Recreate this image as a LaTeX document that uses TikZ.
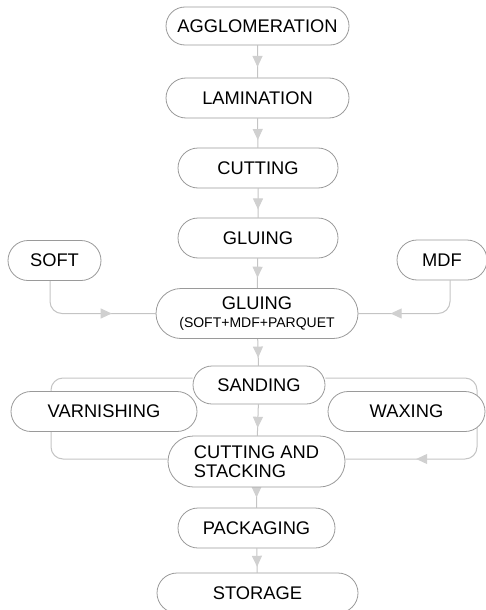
\documentclass[tikz,border=0pt]{standalone}
\usepackage{fontspec}
\setmainfont{Liberation Sans}
\usetikzlibrary{shapes.misc,arrows.meta,decorations.markings}
\definecolor{boxline}{HTML}{9A9A9A}
\definecolor{linkline}{HTML}{C4C4C4}
\definecolor{tipfill}{HTML}{D0D0D0}
\pgfdeclarelayer{background}
\pgfsetlayers{background,main}
\begin{document}
\begin{tikzpicture}[x=1pt,y=-1pt,
  stage/.style={draw=boxline, line width=0.8pt, fill=white, rounded rectangle,
    inner sep=0pt, font=\fontsize{18.3}{19}\selectfont, text=black},
  plainlink/.style={draw=linkline, line width=1pt},
  link/.style={plainlink, postaction={decorate},
    decoration={markings, mark=at position #1 with
      {\arrow{Triangle[length=11pt,width=10pt,color=tipfill,fill=tipfill]}}}},
  link/.default=0.7]
\useasboundingbox (0,0) rectangle (486,610);

\node[stage, minimum width=183pt, minimum height=38pt] (agg) at (257.5,26) {AGGLOMERATION};
\node[stage, minimum width=183pt, minimum height=40pt] (lam) at (257.5,98) {LAMINATION};
\node[stage, minimum width=160pt, minimum height=40pt] (cut) at (258,168) {CUTTING};
\node[stage, minimum width=160pt, minimum height=40pt] (glu) at (258,238) {GLUING};
\node[stage, minimum width=93pt, minimum height=40pt] (soft) at (54.5,260.5) {SOFT};
\node[stage, minimum width=90pt, minimum height=40pt] (mdf) at (442,260) {MDF};
\node[stage, minimum width=202pt, minimum height=50pt, align=center] (glu2) at (257,313.5)
  {GLUING\\[-1pt]{\fontsize{14}{15}\selectfont (SOFT+MDF+PARQUET}};
\node[stage, minimum width=132pt, minimum height=38pt] (sand) at (259,385) {SANDING};
\node[stage, minimum width=186pt, minimum height=40pt] (varn) at (104,411.5) {VARNISHING\hspace{14pt}};
\node[stage, minimum width=157pt, minimum height=40pt] (wax) at (406.5,411.5) {WAXING};
\node[stage, minimum width=177pt, minimum height=51pt, align=left] (cs) at (256.5,461.5)
  {CUTTING AND\\STACKING};
\node[stage, minimum width=157pt, minimum height=40pt] (pack) at (256.5,528) {PACKAGING};
\node[stage, minimum width=201pt, minimum height=40pt] (stor) at (257.5,593) {STORAGE};

\coordinate (TL) at (51,378);
\coordinate (TR) at (477,378);
\coordinate (BL) at (51,459);
\coordinate (BR) at (477,459);

\begin{pgfonlayer}{background}
\draw[link=0.67] (agg) -- (lam);
\draw[link=0.74] (lam) -- (cut);
\draw[link=0.72] (cut) -- (glu);
\draw[link=0.65] (glu) -- (glu2);
\draw[link=0.67, rounded corners=12pt] ([xshift=-4.5pt]soft.south) |- (glu2.west);
\draw[link=0.73, rounded corners=12pt] ([xshift=8pt]mdf.south) |- (glu2.east);
\draw[link=0.7] (glu2) -- (sand);
\draw[plainlink, rounded corners=12pt] (sand.west |- TL) -- (TL) -- (BL) -- (cs.west |- BL);
\draw[link=0.8, rounded corners=12pt] (sand.east |- TR) -- (TR) -- (BR) -- (cs.east |- BR);
\draw[link=0.75] (sand) -- (cs);
\draw[link=0.5] (cs) -- (pack);
\draw[link=0.76] (pack) -- (stor);
\end{pgfonlayer}
\end{tikzpicture}
\end{document}
